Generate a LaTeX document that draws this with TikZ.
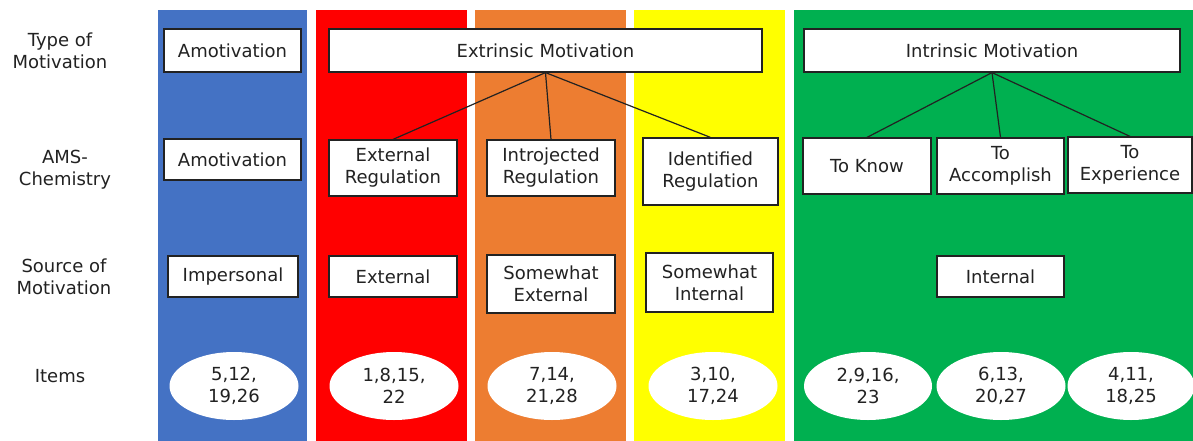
\documentclass[tikz,border=0pt]{standalone}
\usepackage{fontspec}
\setmainfont{DejaVu Sans}
\usetikzlibrary{shapes.geometric}
\definecolor{cblue}{HTML}{4472C4}
\definecolor{cred}{HTML}{FF0000}
\definecolor{corange}{HTML}{ED7D31}
\definecolor{cyellow}{HTML}{FFFF00}
\definecolor{cgreen}{HTML}{00B050}
\definecolor{ink}{HTML}{222222}
\tikzset{
  every node/.style={font=\fontsize{18}{22}\selectfont, text=ink},
  box/.style={draw=ink, line width=1.2pt, fill=white, align=center, inner sep=2pt},
  oval/.style={ellipse, fill=white, align=center, inner sep=0pt, minimum width=129pt, minimum height=68pt},
  rowlabel/.style={align=center},
  link/.style={draw=ink, line width=1.2pt},
}
\begin{document}
\begin{tikzpicture}[x=1pt,y=-1pt]
\useasboundingbox (0,0) rectangle (1193,441);
\fill[white] (0,0) rectangle (1193,441);
% columns
\fill[cblue] (158,10) rectangle (307,441);
\fill[cred] (316,10) rectangle (467,441);
\fill[corange] (475,10) rectangle (626,441);
\fill[cyellow] (634,10) rectangle (785,441);
\fill[cgreen] (794,10) rectangle (1193,441);
% row labels
\node[rowlabel] (l1) at (60,51) {Type of\\Motivation};
\node[rowlabel] (l2) at (65,170) {AMS-\\Chemistry};
\node[rowlabel] (l3) at (64,277) {Source of\\Motivation};
\node[rowlabel] (l4) at (60,376) {Items};
% row 1
\node[box, minimum width=137pt, minimum height=43pt] (t1) at (232.5,50.5) {Amotivation};
\node[box, minimum width=433pt, minimum height=43pt] (t2) at (545.5,50.5) {Extrinsic Motivation};
\node[box, minimum width=376pt, minimum height=43pt] (t3) at (992,50.5) {Intrinsic Motivation};
% row 2
\node[box, minimum width=137pt, minimum height=41pt] (a1) at (232.5,159.5) {Amotivation};
\node[box, minimum width=128pt, minimum height=56pt] (a2) at (393,168) {External\\Regulation};
\node[box, minimum width=128pt, minimum height=56pt] (a3) at (551,168) {Introjected\\Regulation};
\node[box, minimum width=135pt, minimum height=67pt] (a4) at (710.5,171.5) {Identified\\Regulation};
\node[box, minimum width=128pt, minimum height=56pt] (a5) at (867,166) {To Know};
\node[box, minimum width=127pt, minimum height=56pt] (a6) at (1000.5,166) {To\\Accomplish};
\node[box, minimum width=124pt, minimum height=56pt] (a7) at (1130,165) {To\\Experience};
% connectors
\draw[link] (t2.south) -- (a2.north);
\draw[link] (t2.south) -- (a3.north);
\draw[link] (t2.south) -- (a4.north);
\draw[link] (t3.south) -- (a5.north);
\draw[link] (t3.south) -- (a6.north);
\draw[link] (t3.south) -- (a7.north);
% row 3
\node[box, minimum width=130pt, minimum height=41pt] (s1) at (233,276.5) {Impersonal};
\node[box, minimum width=128pt, minimum height=41pt] (s2) at (393,276.5) {External};
\node[box, minimum width=128pt, minimum height=58pt] (s3) at (551,284) {Somewhat\\External};
\node[box, minimum width=127pt, minimum height=59pt] (s4) at (709.5,282.5) {Somewhat\\Internal};
\node[box, minimum width=127pt, minimum height=41pt] (s5) at (1000.5,276.5) {Internal};
% row 4
\node[oval] (e1) at (234,386) {5,12,\\19,26};
\node[oval] (e2) at (394,386) {1,8,15,\\22};
\node[oval] (e3) at (552,386) {7,14,\\21,28};
\node[oval] (e4) at (713,386) {3,10,\\17,24};
\node[oval, minimum width=128pt] (e5) at (868,386) {2,9,16,\\23};
\node[oval] (e6) at (1001,386) {6,13,\\20,27};
\node[oval, minimum width=127pt] (e7) at (1131,386) {4,11,\\18,25};
\end{tikzpicture}
\end{document}
